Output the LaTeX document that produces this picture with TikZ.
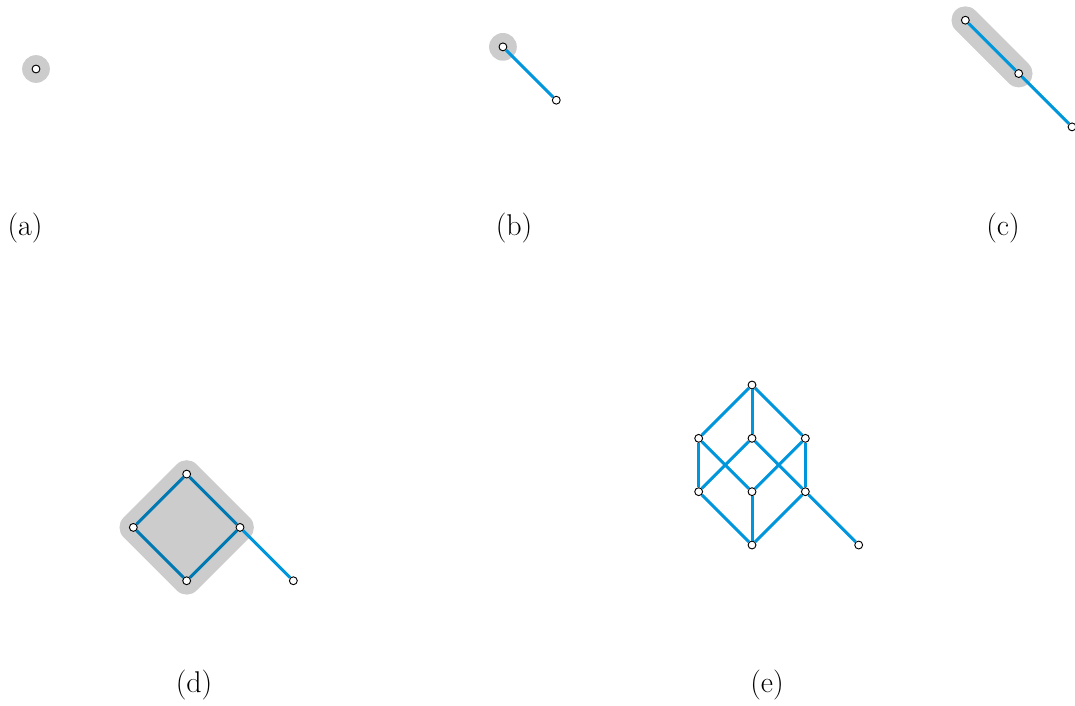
\documentclass[tikz,border=0pt]{standalone}
\usepackage{tikz}
\definecolor{edgeblue}{RGB}{0,150,220}
\definecolor{deepblue}{RGB}{0,121,178}
\tikzset{
  hull/.style={line width=0.52cm, draw=black!20, fill=black!20, line join=round, line cap=round},
  vertex/.style={circle, draw=black, fill=white, line width=0.5pt, inner sep=0pt, minimum size=4.2pt},
  link/.style={line width=1.6pt, draw=edgeblue},
  innerlink/.style={line width=1.6pt, draw=deepblue},
  panellabel/.style={font=\fontsize{16}{19}\selectfont},
}

\begin{document}
\begin{tikzpicture}
\useasboundingbox (0,0) rectangle (20.156,13.219);
% grey hulls
\fill[black!20] (0.675,11.925) circle (0.26);
\fill[black!20] (9.430,12.340) circle (0.26);
\draw[hull] (18.100,12.840) -- (19.100,11.840);
\draw[hull] (3.500,4.330) -- (2.500,3.330) -- (3.500,2.330) -- (4.500,3.330) -- cycle;
% (a)
\node[vertex] (a1) at (0.675,11.925) {};
% (b)
\node[vertex] (b1) at (9.430,12.340) {};
\node[vertex] (b2) at (10.430,11.340) {};
\draw[link] (b1) -- (b2);
% (c)
\node[vertex] (c1) at (18.100,12.840) {};
\node[vertex] (c2) at (19.100,11.840) {};
\node[vertex] (c3) at (20.100,10.840) {};
\draw[link] (c1) -- (c2);
\draw[link] (c2) -- (c3);
% (d)
\node[vertex] (d1) at (3.500,4.330) {};
\node[vertex] (d2) at (2.500,3.330) {};
\node[vertex] (d3) at (4.500,3.330) {};
\node[vertex] (d4) at (3.500,2.330) {};
\node[vertex] (d5) at (5.500,2.330) {};
\draw[innerlink] (d1) -- (d2);
\draw[innerlink] (d1) -- (d3);
\draw[innerlink] (d2) -- (d4);
\draw[innerlink] (d3) -- (d4);
\draw[link] (d3) -- (d5);
% (e)
\node[vertex] (e1) at (14.100,6.000) {};
\node[vertex] (e2) at (13.100,5.000) {};
\node[vertex] (e3) at (14.100,5.000) {};
\node[vertex] (e4) at (15.100,5.000) {};
\node[vertex] (e5) at (13.100,4.000) {};
\node[vertex] (e6) at (14.100,4.000) {};
\node[vertex] (e7) at (15.100,4.000) {};
\node[vertex] (e8) at (14.100,3.000) {};
\node[vertex] (e9) at (16.100,3.000) {};
\draw[link] (e1) -- (e2);
\draw[link] (e1) -- (e3);
\draw[link] (e1) -- (e4);
\draw[link] (e2) -- (e5);
\draw[link] (e2) -- (e6);
\draw[link] (e3) -- (e5);
\draw[link] (e3) -- (e7);
\draw[link] (e4) -- (e6);
\draw[link] (e4) -- (e7);
\draw[link] (e5) -- (e8);
\draw[link] (e6) -- (e8);
\draw[link] (e7) -- (e8);
\draw[link] (e7) -- (e9);
% labels
\node[panellabel] (la) at (0.469,8.940) {(a)};
\node[panellabel] (lb) at (9.638,8.940) {(b)};
\node[panellabel] (lc) at (18.806,8.940) {(c)};
\node[panellabel] (ld) at (3.638,0.375) {(d)};
\node[panellabel] (le) at (14.381,0.375) {(e)};
\end{tikzpicture}
\end{document}
